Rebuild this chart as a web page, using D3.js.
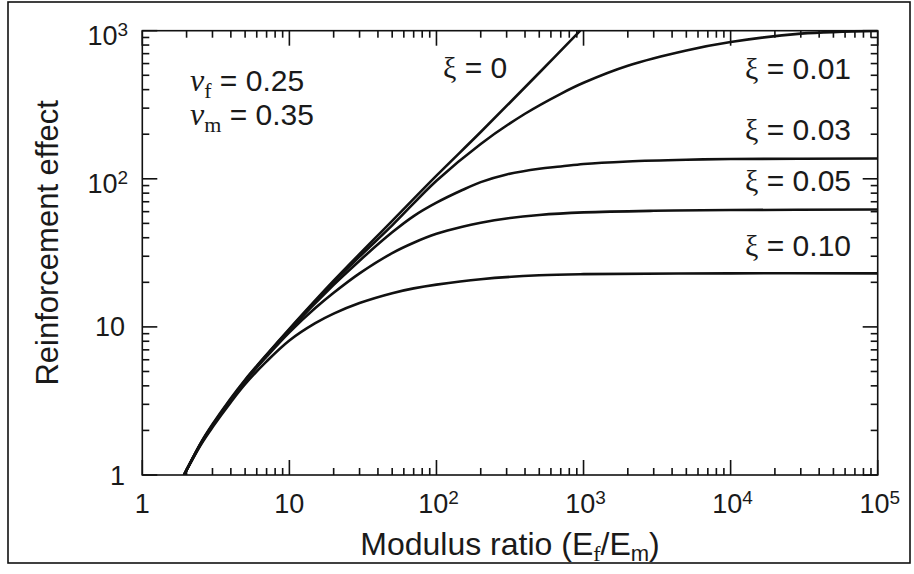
<!DOCTYPE html>
<html>
<head>
<meta charset="utf-8">
<script src="https://cdn.jsdelivr.net/npm/d3@7"></script>
<style>
  html, body { margin: 0; padding: 0; background: #fff; }
  svg { display: block; }
  text { fill: #1a1a1a; }
</style>
</head>
<body>
<svg id="chart" width="914" height="574"></svg>
<script>
// Reinforcement effect vs modulus ratio, one curve per interface parameter ξ
const xiValues = ["0", "0.01", "0.03", "0.05", "0.10"];

const seriesXi0 = [[1.92,1],[2.2,1.3],[2.5,1.65],[3,2.2],[4,3.3],[5,4.4],[7,6.5],[10,9.7],
  [20,20.5],[50,52],[100,105],[200,207],[500,520],[950,1000]];
const seriesXi001 = [[1.92,1],[2.5,1.64],[3,2.18],[5,4.35],[7,6.45],[10,9.6],[20,20.1],[30,29.8],
  [50,48.5],[100,97],[200,172],[400,275],[700,375],[1000,445],[2000,580],[5000,735],
  [10000,838],[30000,955],[100000,998]];
const seriesXi003 = [[1.92,1],[2.5,1.63],[3,2.16],[5,4.3],[7,6.4],[10,9.5],[20,19.2],[30,28],
  [50,43.5],[70,56],[100,69],[150,84],[200,95],[300,107],[500,117],[700,121],
  [1000,126],[2000,131],[5000,134.5],[10000,136],[100000,137]];
const seriesXi005 = [[1.92,1],[2.5,1.62],[3,2.14],[5,4.3],[7,6.3],[10,9.2],[15,13.4],[20,17],
  [30,23],[50,31.5],[70,37],[100,42.5],[150,47.5],[200,50.5],[300,54],[500,57],[1000,59.3],
  [3000,60.8],[10000,61.5],[100000,62]];
const seriesXi010 = [[1.92,1],[2.5,1.6],[3,2.1],[4,3.1],[5,4.1],[7,5.85],[10,8.1],[15,10.6],
  [20,12.3],[30,14.5],[50,16.9],[70,18.2],[100,19.3],[200,21],[500,22.3],[1000,22.7],
  [10000,23],[100000,23]];

const xMajorTicks = [1, 10, 100, 1000, 10000, 100000];
const xTickBase = ["1", "10", "10", "10", "10", "10"];
const xTickExp = ["", "", "2", "3", "4", "5"];
const yMajorTicks = [1, 10, 100, 1000];
const yTickBase = ["1", "10", "10", "10"];
const yTickExp = ["", "", "2", "3"];

const xTitle = "Modulus ratio (E";
const yTitle = "Reinforcement effect";
const nuF = "0.25", nuM = "0.35";

const SANS = "'Liberation Sans', Arial, Helvetica, sans-serif";
const SERIF = "'Liberation Serif', 'Times New Roman', serif";

const svg = d3.select("#chart");
const L = 142.3, R = 877.7, T = 30.7, B = 475;

const x = d3.scaleLog().domain([1, 1e5]).range([L, R]);
const y = d3.scaleLog().domain([1, 1000]).range([B, T]);

// outer frame
svg.append("rect").attr("x", 8).attr("y", 2).attr("width", 902).attr("height", 561)
  .attr("fill", "none").attr("stroke", "#111").attr("stroke-width", 1.6);

function minors(lo, hi) {
  const out = [];
  for (let d = lo; d < hi; d *= 10) for (let k = 2; k <= 9; k++) out.push(d * k);
  return out;
}
const xMinor = minors(1, 1e5), yMinor = minors(1, 1000);

// inward tick marks on all four sides, as thin filled bars
const MAJ = 15, MIN = 7, TW = 1.6;
const tickG = svg.append("g").attr("fill", "#111");
function addXTicks(vals, len) {
  vals.forEach(v => {
    const px = x(v) - TW / 2;
    tickG.append("rect").attr("x", px).attr("y", B - len).attr("width", TW).attr("height", len);
    tickG.append("rect").attr("x", px).attr("y", T).attr("width", TW).attr("height", len);
  });
}
function addYTicks(vals, len) {
  vals.forEach(v => {
    const py = y(v) - TW / 2;
    tickG.append("rect").attr("x", L).attr("y", py).attr("width", len).attr("height", TW);
    tickG.append("rect").attr("x", R - len).attr("y", py).attr("width", len).attr("height", TW);
  });
}
addXTicks(xMajorTicks, MAJ); addXTicks(xMinor, MIN);
addYTicks(yMajorTicks, MAJ); addYTicks(yMinor, MIN);

// plot frame
svg.append("rect").attr("x", L).attr("y", T).attr("width", R - L).attr("height", B - T)
  .attr("fill", "none").attr("stroke", "#111").attr("stroke-width", 1.6);

// tick labels with superscript exponents
function powerLabel(g, base, exp, px, py, anchor) {
  const t = g.append("text").attr("x", px).attr("y", py).attr("text-anchor", anchor)
    .attr("font-family", SANS).attr("font-size", 27);
  t.append("tspan").text(base);
  if (exp) t.append("tspan").attr("dy", -9).attr("font-size", 19).text(exp);
  return t;
}
const labels = svg.append("g");
xMajorTicks.forEach((v, i) => powerLabel(labels, xTickBase[i], xTickExp[i], x(v) + (xTickExp[i] ? 2 : 0), 513, "middle"));
yMajorTicks.forEach((v, i) => powerLabel(labels, yTickBase[i], yTickExp[i],
  yTickExp[i] ? 128 : 125, y(v) + (yTickExp[i] ? 14 : 9.5), "end"));

// axis titles
const xt = svg.append("text").attr("x", (L + R) / 2).attr("y", 555).attr("text-anchor", "middle")
  .attr("font-family", SANS).attr("font-size", 32);
xt.append("tspan").text(xTitle);
xt.append("tspan").attr("dy", 6).attr("font-size", 22).attr("font-family", SERIF).text("f");
xt.append("tspan").attr("dy", -6).text("/E");
xt.append("tspan").attr("dy", 6).attr("font-size", 22).text("m");
xt.append("tspan").attr("dy", -6).text(")");

svg.append("text").attr("transform", `translate(58,${(T + B) / 2 - 10}) rotate(-90)`)
  .attr("text-anchor", "middle").attr("font-family", SANS).attr("font-size", 31).text(yTitle);

// curves
svg.append("clipPath").attr("id", "plot-clip").append("rect")
  .attr("x", L).attr("y", T - 1).attr("width", R - L).attr("height", B - T + 1);
const line = d3.line().x(d => x(d[0])).y(d => y(d[1])).curve(d3.curveCatmullRom.alpha(0.5));
const allSeries = [seriesXi0, seriesXi001, seriesXi003, seriesXi005, seriesXi010];
svg.append("g").attr("clip-path", "url(#plot-clip)")
  .selectAll("path").data(allSeries).join("path")
  .attr("d", line).attr("fill", "none").attr("stroke", "#111").attr("stroke-width", 2.6)
  .attr("stroke-linejoin", "round");

// curve labels
function xiLabel(value, px, py, anchor) {
  const t = svg.append("text").attr("x", px).attr("y", py).attr("text-anchor", anchor)
    .attr("font-size", 30);
  t.append("tspan").attr("font-family", SERIF).text("ξ");
  t.append("tspan").attr("font-family", SANS).text(" = " + value);
}
xiLabel(xiValues[0], 443, 78, "start");
const labelY = [79, 140, 191, 256];
xiValues.slice(1).forEach((v, i) => xiLabel(v, 851, labelY[i], "end"));

// Poisson's ratios
function nuLabel(sub, value, py) {
  const t = svg.append("text").attr("x", 190).attr("y", py).attr("font-size", 30);
  t.append("tspan").attr("font-family", SERIF).attr("font-style", "italic").attr("font-size", 32).text("ν");
  t.append("tspan").attr("font-family", SERIF).attr("font-size", 22).attr("dy", 7).text(sub);
  t.append("tspan").attr("font-family", SANS).attr("dy", -7).text(" = " + value);
}
nuLabel("f", nuF, 91);
nuLabel("m", nuM, 125);
</script>
</body>
</html>
